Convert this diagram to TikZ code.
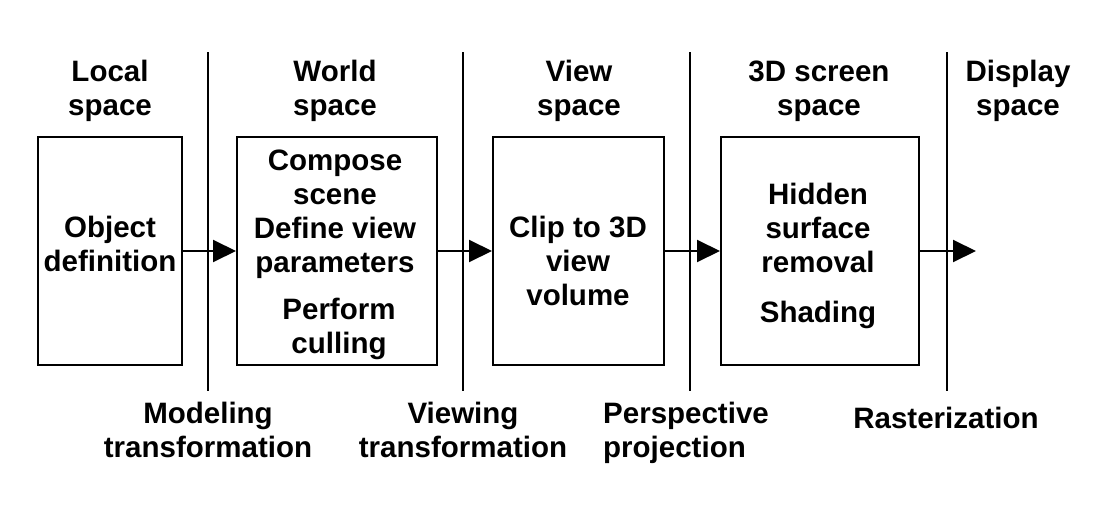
\documentclass[tikz,border=0pt]{standalone}
\usepackage{fontspec}
\setmainfont{Liberation Sans}
\usetikzlibrary{arrows.meta}
\begin{document}
\begin{tikzpicture}[x=1pt,y=-1pt,
  lbl/.style={font=\bfseries\fontsize{29.5}{34}\selectfont, align=center, inner sep=0pt},
  lblL/.style={font=\bfseries\fontsize{29.5}{34}\selectfont, align=left, inner sep=0pt},
  stage/.style={draw, line width=2pt, minimum width=#1, minimum height=228pt, inner sep=0pt},
  divider/.style={line width=2pt},
  flow/.style={line width=2pt, -{Triangle[length=23pt,width=22pt]}}]
\useasboundingbox (0,0) rectangle (1104,514);
% stage boxes
\node[stage=144pt] (b1) at (110,251) {};
\node[stage=200pt] (b2) at (337,251) {};
\node[stage=171pt] (b3) at (578.5,251) {};
\node[stage=198pt] (b4) at (820,251) {};
% dividers
\foreach \n/\x in {1/208,2/463,3/690,4/947}{
  \coordinate (t\n) at (\x,52);
  \coordinate (u\n) at (\x,391);
  \draw[divider] (t\n) -- (u\n);
}
% headers (anchor base = baseline of last line)
\node[lbl, anchor=base] (h1) at (110,115) {Local\\space};
\node[lbl, anchor=base] (h2) at (335,115) {World\\space};
\node[lbl, anchor=base] (h3) at (579,115) {View\\space};
\node[lbl, anchor=base] (h4) at (819,115) {3D screen\\space};
\node[lbl, anchor=base] (h5) at (1018,115) {Display\\space};
% box texts
\node[lbl, anchor=base] (x1) at (110,271) {Object\\definition};
\node[lbl, anchor=base] (x2a) at (335,272) {Compose\\scene\\Define view\\parameters};
\node[lbl, anchor=base] (x2b) at (339,353) {Perform\\culling};
\node[lbl, anchor=base] (x3) at (578,305) {Clip to 3D\\view\\volume};
\node[lbl, anchor=base] (x4a) at (818,272) {Hidden\\surface\\removal};
\node[lbl, anchor=base] (x4b) at (818,322) {Shading};
% bottom labels
\node[lbl, anchor=base] (m1) at (208,457) {Modeling\\transformation};
\node[lbl, anchor=base] (m2) at (463,457) {Viewing\\transformation};
\node[lblL, anchor=base west] (m3) at (603,457) {Perspective\\projection};
\node[lbl, anchor=base] (m4) at (946,428) {Rasterization};
% arrows
\coordinate (endp) at (976,251);
\draw[flow] (b1.east) -- (b2.west);
\draw[flow] (b2.east) -- (b3.west);
\draw[flow] (b3.east) -- (b4.west);
\draw[flow] (b4.east) -- (endp);
\end{tikzpicture}
\end{document}
